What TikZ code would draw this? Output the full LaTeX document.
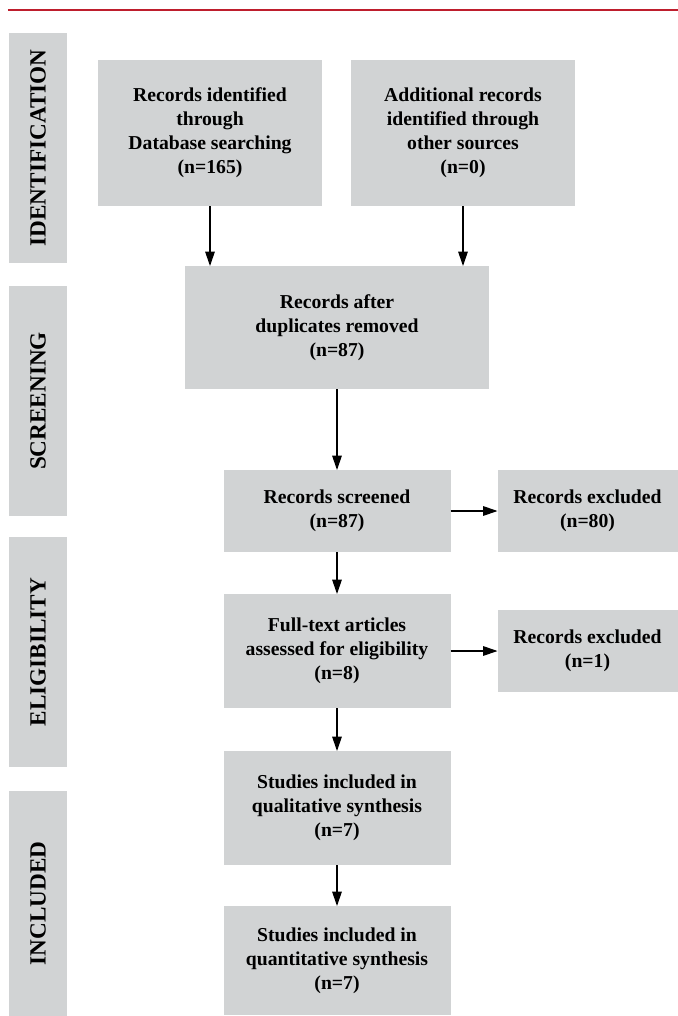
\documentclass[tikz,border=0pt]{standalone}
\usepackage{fontspec}
\setmainfont{Liberation Serif}
\usetikzlibrary{arrows.meta,shapes,positioning}
\definecolor{boxgray}{RGB}{209,211,212}
\definecolor{rulered}{RGB}{190,30,45}

\begin{document}
\begin{tikzpicture}[node distance = 1 cm]
  \useasboundingbox (0,0) rectangle (16.95,-25.4);
  \tikzset{BoxStyle/.style   = {shape          = rectangle,
                                fill           = boxgray,
                                text           = black,
                                align          = center,
                                font           = \fontsize{14}{17}\selectfont\bfseries,
                                inner sep      = 2pt,
                                outer sep      = 0pt,
                                minimum width  = 5.675cm,
                                minimum height = 2.05cm}}
  \tikzset{PhaseStyle/.style = {shape          = rectangle,
                                fill           = boxgray,
                                text           = black,
                                rotate         = 90,
                                font           = \fontsize{16.5}{18}\selectfont\bfseries,
                                inner sep      = 0pt,
                                outer sep      = 0pt,
                                minimum width  = 5.75cm,
                                minimum height = 1.45cm}}
  \tikzset{EdgeStyle/.style  = {line width     = 0.8pt,
                                draw           = black,
                                -{Triangle[length=0.36cm,width=0.24cm]}}}
  \tikzset{RuleStyle/.style  = {line width     = 1.2pt,
                                draw           = rulered}}
     % top rule
     \draw[RuleStyle] (0.2,-0.25) -- (16.95,-0.25);
     % phases
     \node[PhaseStyle] (Id) at (0.95,-3.7)    {IDENTIFICATION};
     \node[PhaseStyle] (Sc) at (0.95,-10.025) {SCREENING};
     \node[PhaseStyle] (El) at (0.95,-16.3)   {ELIGIBILITY};
     \node[PhaseStyle, minimum width = 5.625cm] (In) at (0.95,-22.5875) {INCLUDED};
     % boxes
     \node[BoxStyle, minimum width = 5.6cm, minimum height = 3.65cm] (Rec) at (5.25,-3.325)
          {Records identified\\through\\Database searching\\(n=165)};
     \node[BoxStyle, minimum width = 5.6cm, minimum height = 3.65cm, right=0.725cm of Rec] (Add)
          {Additional records\\identified through\\other sources\\(n=0)};
     \node[BoxStyle, minimum width = 7.6cm, minimum height = 3.075cm] (Dup) at (8.425,-8.1875)
          {Records after\\duplicates removed\\(n=87)};
     \node[BoxStyle, below=2.025cm of Dup] (Scr) {Records screened\\(n=87)};
     \node[BoxStyle, minimum width = 4.5cm, right=1.175cm of Scr] (ExA) {Records excluded\\(n=80)};
     \node[BoxStyle, minimum height = 2.85cm, below=1.05cm of Scr] (Full)
          {Full-text articles\\assessed for eligibility\\(n=8)};
     \node[BoxStyle, minimum width = 4.5cm, right=1.175cm of Full] (ExB) {Records excluded\\(n=1)};
     \node[BoxStyle, minimum height = 2.85cm, below=1.075cm of Full] (Qual)
          {Studies included in\\qualitative synthesis\\(n=7)};
     \node[BoxStyle, minimum height = 2.725cm, below=1.025cm of Qual] (Quant)
          {Studies included in\\quantitative synthesis\\(n=7)};
     % arrows
     \draw[EdgeStyle] (Rec.south) -- (Rec.south |- Dup.north);
     \draw[EdgeStyle] (Add.south) -- (Add.south |- Dup.north);
     \draw[EdgeStyle] (Dup) -- (Scr);
     \draw[EdgeStyle] (Scr) -- (ExA);
     \draw[EdgeStyle] (Scr) -- (Full);
     \draw[EdgeStyle] (Full) -- (ExB);
     \draw[EdgeStyle] (Full) -- (Qual);
     \draw[EdgeStyle] (Qual) -- (Quant);
\end{tikzpicture}
\end{document}
